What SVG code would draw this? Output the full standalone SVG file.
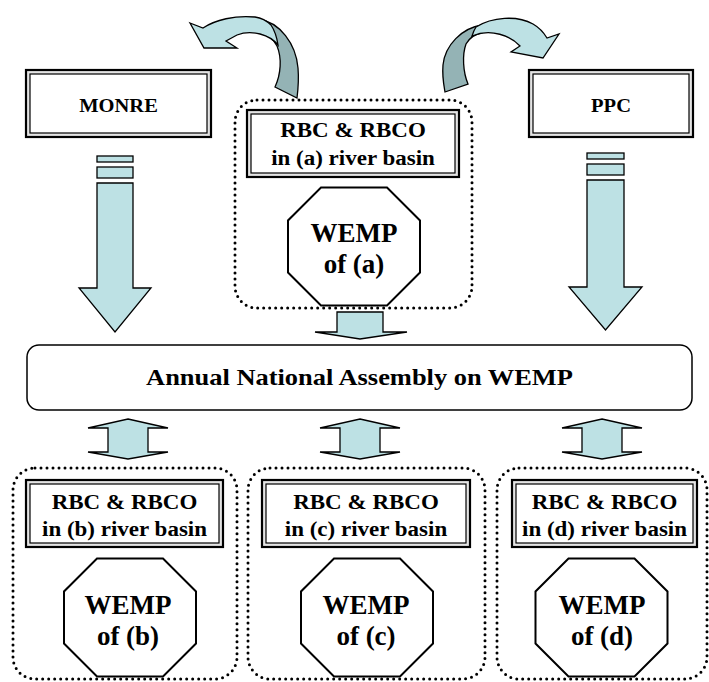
<svg xmlns="http://www.w3.org/2000/svg" xmlns:xlink="http://www.w3.org/1999/xlink" width="709" height="682" viewBox="0 0 709 682">
  <style>
    .fr-out { fill: #e4e4e4; stroke: #000; stroke-width: 2.2; }
    .fr-in { fill: #fff; stroke: #000; stroke-width: 1.2; }
    .dot { fill: none; stroke: #000; stroke-width: 3; stroke-dasharray: 0 6; stroke-linecap: round; }
    .oct { fill: #fff; stroke: #000; stroke-width: 2; }
    .asm { fill: #fff; stroke: #000; stroke-width: 1.5; }
    .arr { fill: #bde1e4; stroke: #000; stroke-width: 1.3; stroke-linejoin: miter; }
    .arr-dk { fill: #94b3b5; stroke: #000; stroke-width: 1.3; }
    .t { font-weight: bold; text-anchor: middle; fill: #000; }
    .t18 { font-size: 18px; }
    .t20 { font-size: 20px; }
    .t23 { font-size: 23px; }
    .t27 { font-size: 27px; }
  </style>
  <defs>
    <!-- octagon centred on the origin -->
    <polygon id="oct" points="-33,-59 33,-59 66,-26 66,26 33,59 -33,59 -66,26 -66,-26"/>
    <!-- two-headed vertical arrow, centred on x = 0 -->
    <polygon id="dbl" points="0,419 40,428 20,428 20,452 40,452 0,459 -40,452 -20,452 -20,428 -40,428"/>
  </defs>

  <rect width="709" height="682" fill="#fff"/>

  <!-- arrows between the bodies -->
  <g id="connectors">
    <!-- curved arrow from basin (a) towards MONRE -->
    <g id="curve-left">
      <path class="arr-dk" d="M258,19 C280,22 296,44 298,68 C299,80 298,90 297,98 L275,87 C281,74 282,58 277,46 C273,38 266,33 258,32 Z"/>
      <path class="arr" d="M190,23 L203,28 C215,20 235,15 255,17 C262,18 267,21 271,25 C275,31 277,38 278,45 C270,35 252,29 237,35 L226,41 L237,48 L204,48 Z"/>
    </g>
    <!-- curved arrow from basin (a) towards PPC -->
    <g id="curve-right">
      <path class="arr-dk" d="M482,25 C462,28 445,45 443,65 C442,77 444,86 445,92 L468,84 C463,72 462,55 466,44 C470,37 475,34 482,33 Z"/>
      <path class="arr" d="M476,27 C492,17 517,15 533,24 C540,28 544,33 547,38 L559,34 L543,58 L511,52 L520,46 C511,36 491,28 472,36 C473,33 474,30 476,27 Z"/>
    </g>

    <!-- MONRE down arrow -->
    <g id="down-monre">
      <rect class="arr" x="97" y="156" width="36" height="6"/>
      <rect class="arr" x="97" y="167" width="36" height="11"/>
      <polygon class="arr" points="97,183 133,183 133,288 151,288 115,332 79,288 97,288"/>
    </g>
    <!-- PPC down arrow -->
    <g id="down-ppc">
      <rect class="arr" x="587" y="153" width="37" height="6"/>
      <rect class="arr" x="587" y="164" width="37" height="11"/>
      <polygon class="arr" points="587,180 624,180 624,287 642,287 605.5,330 569,287 587,287"/>
    </g>
    <!-- basin (a) down to the assembly -->
    <polygon id="down-a" class="arr" points="337,312 383,312 383,332 407,332 360,339 315,332 337,332"/>

    <!-- assembly to and from basins (b), (c), (d) -->
    <use id="link-b" xlink:href="#dbl" href="#dbl" class="arr" transform="translate(128,0)"/>
    <use id="link-c" xlink:href="#dbl" href="#dbl" class="arr" transform="translate(360,0)"/>
    <use id="link-d" xlink:href="#dbl" href="#dbl" class="arr" transform="translate(602,0)"/>
  </g>

  <g font-family="'Liberation Serif', 'DejaVu Serif', serif">
  <!-- MONRE -->
  <g id="monre">
    <rect class="fr-out" x="26" y="70" width="185" height="67"/>
    <rect class="fr-in" x="30" y="74" width="177" height="59"/>
    <text class="t t18" transform="translate(118.5,112) scale(1.14,1)">MONRE</text>
  </g>

  <!-- PPC -->
  <g id="ppc">
    <rect class="fr-out" x="529" y="70" width="164" height="67"/>
    <rect class="fr-in" x="533" y="74" width="156" height="59"/>
    <text class="t t18" transform="translate(611,112) scale(1.14,1)">PPC</text>
  </g>

  <!-- river basin (a) -->
  <g id="basin-a">
    <rect class="dot" x="235" y="100" width="237" height="208" rx="22"/>
    <rect class="fr-out" x="247" y="110" width="212" height="67"/>
    <rect class="fr-in" x="251" y="114" width="204" height="59"/>
    <text class="t t20" transform="translate(353,137) scale(1.15,1)">RBC &amp; RBCO</text>
    <text class="t t20" transform="translate(353,165) scale(1.15,1)">in (a) river basin</text>
    <use xlink:href="#oct" href="#oct" class="oct" transform="translate(354,246.5)"/>
    <text class="t t27" x="354" y="242">WEMP</text>
    <text class="t t27" x="354" y="273">of (a)</text>
  </g>

  <!-- national assembly -->
  <g id="assembly">
    <rect class="asm" x="27" y="345" width="665" height="65" rx="12"/>
    <text class="t t23" transform="translate(359.5,385) scale(1.15,1)">Annual National Assembly on WEMP</text>
  </g>

  <!-- river basin (b) -->
  <g id="basin-b">
    <rect class="dot" x="13" y="468" width="224" height="211" rx="22"/>
    <rect class="fr-out" x="26" y="480" width="197" height="67"/>
    <rect class="fr-in" x="30" y="484" width="189" height="59"/>
    <text class="t t20" transform="translate(124.5,509) scale(1.15,1)">RBC &amp; RBCO</text>
    <text class="t t20" transform="translate(124.5,536) scale(1.15,1)">in (b) river basin</text>
    <use xlink:href="#oct" href="#oct" class="oct" transform="translate(130,617.5)"/>
    <text class="t t27" x="128" y="614">WEMP</text>
    <text class="t t27" x="128" y="645">of (b)</text>
  </g>

  <!-- river basin (c) -->
  <g id="basin-c">
    <rect class="dot" x="248" y="468" width="237" height="211" rx="22"/>
    <rect class="fr-out" x="262" y="480" width="208" height="67"/>
    <rect class="fr-in" x="266" y="484" width="200" height="59"/>
    <text class="t t20" transform="translate(366,509) scale(1.15,1)">RBC &amp; RBCO</text>
    <text class="t t20" transform="translate(366,536) scale(1.15,1)">in (c) river basin</text>
    <use xlink:href="#oct" href="#oct" class="oct" transform="translate(367,617.5)"/>
    <text class="t t27" x="366" y="614">WEMP</text>
    <text class="t t27" x="366" y="645">of (c)</text>
  </g>

  <!-- river basin (d) -->
  <g id="basin-d">
    <rect class="dot" x="497" y="468" width="210" height="211" rx="22"/>
    <rect class="fr-out" x="512" y="480" width="185" height="67"/>
    <rect class="fr-in" x="516" y="484" width="177" height="59"/>
    <text class="t t20" transform="translate(604.5,509) scale(1.15,1)">RBC &amp; RBCO</text>
    <text class="t t20" transform="translate(604.5,536) scale(1.15,1)">in (d) river basin</text>
    <use xlink:href="#oct" href="#oct" class="oct" transform="translate(601.5,617.5)"/>
    <text class="t t27" x="602" y="614">WEMP</text>
    <text class="t t27" x="602" y="645">of (d)</text>
  </g>
  </g>
</svg>
